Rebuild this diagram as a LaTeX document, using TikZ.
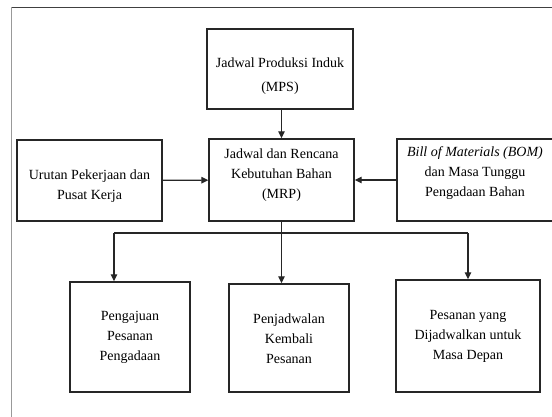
\documentclass[tikz,border=0pt]{standalone}
\usepackage{fontspec}
\setmainfont{Liberation Serif}
\usetikzlibrary{arrows.meta}
\begin{document}
\begin{tikzpicture}[x=1pt,y=-1pt,
  box/.style={draw=black!85, line width=1.4pt, inner sep=0pt},
  txt/.style={align=center, inner sep=0pt, font=\fontsize{14}{20}\selectfont},
  wire/.style={draw=black!85, line width=1.3pt},
  flow/.style={wire, -{Triangle[length=7pt,width=6.5pt]}},
]
\useasboundingbox (0,0) rectangle (552,417);
\clip (0,0) rectangle (552,417);

% page frame
\draw[black!75, line width=1.5pt] (11.5,7.5) -- (560,7.5);
\draw[black!40, line width=1.4pt] (11.5,7.5) -- (11.5,420);

% boxes
\node[box, minimum width=146pt, minimum height=80pt] (mps) at (280,69) {};
\node[box, minimum width=145pt, minimum height=81pt] (work) at (89.5,180.5) {};
\node[box, minimum width=145pt, minimum height=82pt] (mrp) at (281.5,180) {};
\node[box, minimum width=156pt, minimum height=82pt] (bom) at (475,180) {};
\node[box, minimum width=120pt, minimum height=110pt] (ppo) at (130,337) {};
\node[box, minimum width=120pt, minimum height=108pt] (rsch) at (289,338) {};
\node[box, minimum width=144pt, minimum height=112pt] (fut) at (468,336) {};

% box texts
\node[txt] (mps-t) at ([yshift=-7pt]mps.center) {Jadwal Produksi Induk\\[4pt](MPS)};
\node[txt] (work-t) at ([yshift=-6pt]work.center) {Urutan Pekerjaan dan\\Pusat Kerja};
\node[txt] (mrp-t) at ([yshift=5pt]mrp.center) {Jadwal dan Rencana\\Kebutuhan Bahan\\(MRP)};
\node[txt] (bom-t) at ([yshift=7pt]bom.center) {\textit{Bill of Materials (BOM)}\\dan Masa Tunggu\\Pengadaan Bahan};
\node[txt] (ppo-t) at (ppo.center) {Pengajuan\\Pesanan\\Pengadaan};
\node[txt] (rsch-t) at ([yshift=-1pt]rsch.center) {Penjadwalan\\Kembali\\Pesanan};
\node[txt] (fut-t) at (fut.center) {Pesanan yang\\Dijadwalkan untuk\\Masa Depan};

% connectors
\draw[flow] (mrp.north |- mps.south) -- (mrp.north);
\draw[flow] (work) -- (mrp);
\draw[flow] (bom) -- (mrp);

\coordinate (bl) at (114,233);
\coordinate (br) at (468,233);
\draw[wire] (bl) -- (br);
\draw[flow] (mrp.south) -- (mrp.south |- rsch.north);
\draw[flow] (bl) -- (bl |- ppo.north);
\draw[flow] (br) -- (fut.north);
\end{tikzpicture}
\end{document}
